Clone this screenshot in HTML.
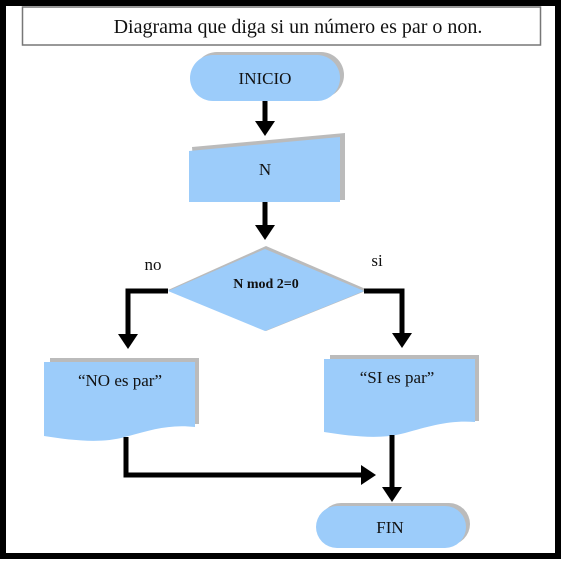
<!DOCTYPE html>
<html><head><meta charset="utf-8"><style>
html,body{margin:0;padding:0;background:#fff;}
svg{display:block;}
text{font-family:"Liberation Serif",serif;fill:#111;}
</style></head><body>
<svg width="562" height="562" viewBox="0 0 562 562" xmlns="http://www.w3.org/2000/svg">
<rect x="0" y="0" width="562" height="562" fill="#fff"/>
<rect x="3" y="3" width="555" height="553" fill="none" stroke="#000" stroke-width="6"/>
<rect x="22.5" y="7" width="518" height="38" fill="#fff" stroke="#777" stroke-width="1.5"/>
<text x="298" y="33" font-size="20" text-anchor="middle">Diagrama que diga si un número es par o non.</text>

<defs><marker id="a" markerWidth="4" markerHeight="4" refX="2.2" refY="2" orient="auto" markerUnits="strokeWidth"><path d="M0,0 L3,2 L0,4 Z" fill="#000"/></marker></defs>

<!-- INICIO -->
<rect x="194" y="52" width="150" height="46" rx="23" fill="#bbb"/>
<rect x="190" y="55" width="150" height="46" rx="23" fill="#9cccfa"/>
<text x="265" y="84" font-size="17" text-anchor="middle">INICIO</text>
<line x1="265" y1="101" x2="265" y2="132" stroke="#000" stroke-width="5" marker-end="url(#a)"/>

<!-- N -->
<polygon points="192,147 345,133 345,200 196,200" fill="#bbb"/>
<polygon points="189,151 340,137 340,202 189,202" fill="#9cccfa"/>
<text x="265" y="175" font-size="17" text-anchor="middle">N</text>
<line x1="265" y1="202" x2="265" y2="236" stroke="#000" stroke-width="5" marker-end="url(#a)"/>

<!-- diamond -->
<polygon points="266,246 368,290 266,331 168,290" fill="#bbb"/>
<polygon points="265,249 364,291 265,331 168,291" fill="#9cccfa"/>
<text x="266" y="288" font-size="14" font-weight="bold" text-anchor="middle">N mod 2=0</text>
<text x="153" y="270" font-size="17" text-anchor="middle">no</text>
<text x="377" y="266" font-size="17" text-anchor="middle">si</text>

<polyline points="168,291 128,291 128,345" fill="none" stroke="#000" stroke-width="5" marker-end="url(#a)"/>
<polyline points="364,291 402,291 402,344" fill="none" stroke="#000" stroke-width="5" marker-end="url(#a)"/>

<!-- left doc -->
<rect x="50" y="358" width="149" height="66" fill="#bbb"/>
<path d="M44,362 L195,362 L195,427 C170,424 150,430 125,437 C100,444 70,440 44,436 Z" fill="#9cccfa"/>
<text x="120" y="386" font-size="17" text-anchor="middle">“NO es par”</text>
<!-- right doc -->
<rect x="330" y="355" width="149" height="66" fill="#bbb"/>
<path d="M324,359 L475,359 L475,422 C450,420 430,426 405,433 C380,440 350,436 324,432 Z" fill="#9cccfa"/>
<text x="397" y="383" font-size="17" text-anchor="middle">“SI es par”</text>

<polyline points="126,437 126,475 372,475" fill="none" stroke="#000" stroke-width="5" marker-end="url(#a)"/>
<line x1="392" y1="435" x2="392" y2="498" stroke="#000" stroke-width="5" marker-end="url(#a)"/>

<!-- FIN -->
<rect x="320" y="503" width="150" height="42" rx="21" fill="#bbb"/>
<rect x="316" y="506" width="150" height="42" rx="21" fill="#9cccfa"/>
<text x="390" y="533" font-size="17" text-anchor="middle">FIN</text>
</svg>
</body></html>
